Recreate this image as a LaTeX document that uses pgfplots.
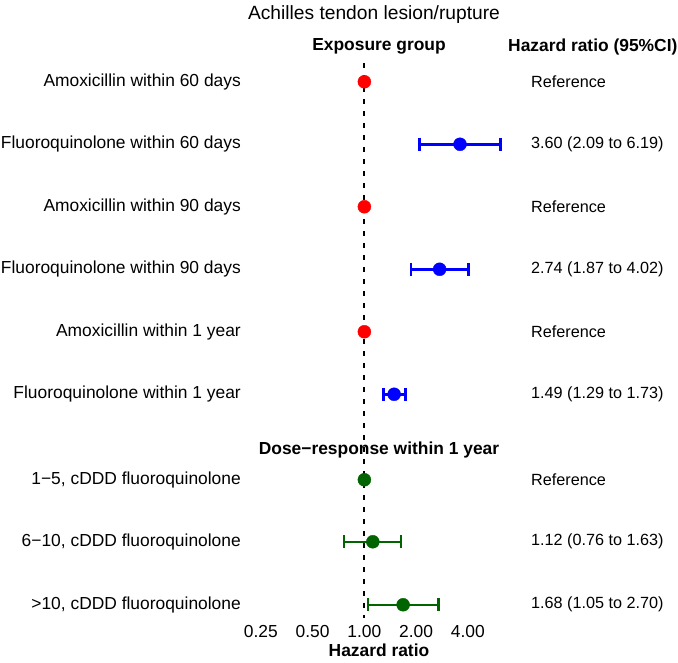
\documentclass[border=0pt]{standalone}
\usepackage{fontspec}
\setmainfont{Liberation Sans}
\usepackage{pgfplots}
\pgfplotsset{compat=1.18}
\definecolor{dgreen}{RGB}{0,100,0}
\begin{document}
\fontsize{17.4bp}{20bp}\selectfont
\begin{tikzpicture}
\path (0,0) rectangle (678bp,-657bp);
\begin{axis}[
  at={(0,0)}, anchor=north west,
  scale only axis, width=678bp, height=657bp,
  xmode=log, log basis x=2,
  xmin=0.00760, xmax=66.7,
  ymin=0, ymax=657, y dir=reverse,
  axis lines=none, ticks=none,
  clip=false,
  ci/.style={line width=2.5bp, mark=|, mark size=6.5bp, mark options={line width=2.5bp}},
]
% reference line at HR = 1
\addplot[black, line width=1.8bp, dash pattern=on 5bp off 7bp] coordinates {(1,60) (1,615)};
% confidence intervals
\addplot[blue, ci] coordinates {(2.09,141.5) (6.19,141.5)};
\addplot[blue, ci] coordinates {(1.87,266.5) (4.02,266.5)};
\addplot[blue, ci] coordinates {(1.29,391.5) (1.73,391.5)};
\addplot[dgreen, ci] coordinates {(0.76,539) (1.63,539)};
\addplot[dgreen, ci] coordinates {(1.05,602) (2.70,602)};
% point estimates
\addplot[only marks, mark=*, red, mark size=6.5bp] coordinates {(1,79) (1,204) (1,329)};
\addplot[only marks, mark=*, blue, mark size=6.5bp] coordinates {(3.60,141.5) (2.74,266.5) (1.49,391.5)};
\addplot[only marks, mark=*, dgreen, mark size=6.5bp] coordinates {(1,477) (1.12,539) (1.68,602)};
% tick labels
\node at (axis cs:0.25,629) {0.25};
\node at (axis cs:0.5,629) {0.50};
\node at (axis cs:1,629) {1.00};
\node at (axis cs:2,629) {2.00};
\node at (axis cs:4,629) {4.00};
\end{axis}
% titles and headers
\node[font=\fontsize{19.2bp}{22bp}\selectfont] at (374bp,-12bp) {Achilles tendon lesion/rupture};
\node[font=\bfseries] at (379bp,-44bp) {Exposure group};
\node[font=\bfseries, anchor=west, inner sep=0] at (508bp,-44bp) {Hazard ratio (95\%CI)};
\node[font=\bfseries] at (379bp,-447bp) {Dose\textminus response within 1 year};
\node[font=\bfseries] at (379bp,-648bp) {Hazard ratio};
% row labels
\begin{scope}[every node/.style={anchor=east, inner sep=0}]
\node at (241bp,-79bp) {Amoxicillin within 60 days};
\node at (241bp,-141.5bp) {Fluoroquinolone within 60 days};
\node at (241bp,-204bp) {Amoxicillin within 90 days};
\node at (241bp,-266.5bp) {Fluoroquinolone within 90 days};
\node at (241bp,-329bp) {Amoxicillin within 1 year};
\node at (241bp,-391.5bp) {Fluoroquinolone within 1 year};
\node at (241bp,-477bp) {1\textminus 5, cDDD fluoroquinolone};
\node at (241bp,-539bp) {6\textminus 10, cDDD fluoroquinolone};
\node at (241bp,-602bp) {>10, cDDD fluoroquinolone};
\end{scope}
% estimates text
\begin{scope}[every node/.style={anchor=west, inner sep=0, font=\fontsize{16.2bp}{19bp}\selectfont}]
\node at (531bp,-79bp) {Reference};
\node at (531bp,-141.5bp) {3.60 (2.09 to 6.19)};
\node at (531bp,-204bp) {Reference};
\node at (531bp,-266.5bp) {2.74 (1.87 to 4.02)};
\node at (531bp,-329bp) {Reference};
\node at (531bp,-391.5bp) {1.49 (1.29 to 1.73)};
\node at (531bp,-477bp) {Reference};
\node at (531bp,-539bp) {1.12 (0.76 to 1.63)};
\node at (531bp,-602bp) {1.68 (1.05 to 2.70)};
\end{scope}
\end{tikzpicture}
\end{document}
